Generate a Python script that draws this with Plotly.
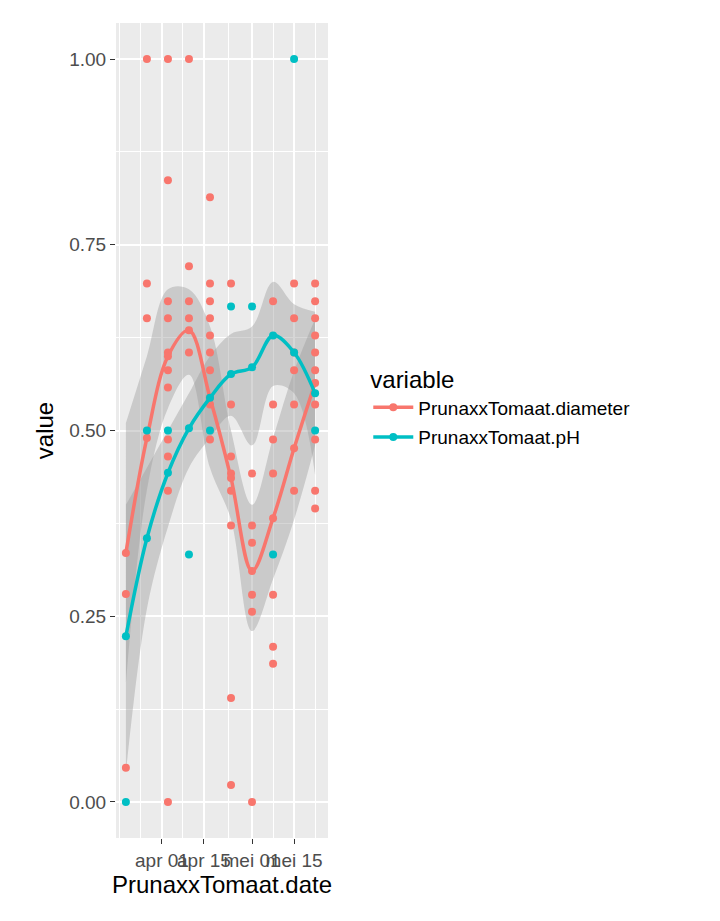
import plotly.graph_objects as go

dates = ["2021-03-20", "2021-03-27", "2021-04-03", "2021-04-10", "2021-04-17",
         "2021-04-24", "2021-05-01", "2021-05-08", "2021-05-15", "2021-05-22"]

diameter = [
    [0.046, 0.28],
    [1.0, 0.698, 0.651],
    [1.0, 0.837, 0.674, 0.651, 0.605, 0.581, 0.558, 0.488, 0.465, 0.419, 0.0],
    [1.0, 0.721, 0.674, 0.651, 0.605],
    [0.814, 0.698, 0.674, 0.651, 0.628, 0.605, 0.581, 0.535, 0.488],
    [0.698, 0.535, 0.465, 0.442, 0.419, 0.372, 0.14, 0.023],
    [0.442, 0.372, 0.349, 0.279, 0.256, 0.0],
    [0.674, 0.535, 0.488, 0.442, 0.279, 0.209, 0.186],
    [0.698, 0.651, 0.605, 0.581, 0.535, 0.419],
    [0.698, 0.674, 0.651, 0.628, 0.605, 0.581, 0.535, 0.488, 0.419, 0.395],
]
ph = [
    [0.0], [0.5], [0.5], [0.333], [0.5], [0.667], [0.667], [0.333], [1.0], [0.5],
]

# smoothed fits
diam_fit = [0.335, 0.49, 0.60, 0.635, 0.544, 0.436, 0.311, 0.382, 0.476, 0.564]
diam_lo = [0.16, 0.42, 0.53, 0.575, 0.45, 0.38, 0.23, 0.30, 0.38, 0.48]
diam_hi = [0.51, 0.60, 0.69, 0.69, 0.64, 0.50, 0.40, 0.49, 0.58, 0.65]
ph_fit = [0.223, 0.355, 0.443, 0.503, 0.544, 0.576, 0.585, 0.628, 0.605, 0.55]
ph_lo = [0.04, 0.26, 0.37, 0.45, 0.49, 0.52, 0.48, 0.56, 0.55, 0.44]
ph_hi = [0.40, 0.45, 0.50, 0.55, 0.60, 0.63, 0.64, 0.70, 0.67, 0.66]

RED = "#F8766D"
TEAL = "#00BFC4"
BAND = "rgba(153,153,153,0.4)"

fig = go.Figure()

for lo, hi in [(diam_lo, diam_hi), (ph_lo, ph_hi)]:
    fig.add_trace(go.Scatter(x=dates, y=lo, mode="lines", line=dict(width=0, shape="spline"),
                             showlegend=False, hoverinfo="skip"))
    fig.add_trace(go.Scatter(x=dates, y=hi, mode="lines", line=dict(width=0, shape="spline"),
                             fill="tonexty", fillcolor=BAND, showlegend=False, hoverinfo="skip"))

for name, vals, fit, col in [("PrunaxxTomaat.diameter", diameter, diam_fit, RED),
                             ("PrunaxxTomaat.pH", ph, ph_fit, TEAL)]:
    xs, ys = [], []
    for d, v in zip(dates, vals):
        xs += [d] * len(v)
        ys += v
    fig.add_trace(go.Scatter(x=xs, y=ys, mode="markers", marker=dict(color=col, size=8),
                             showlegend=False))
    fig.add_trace(go.Scatter(x=dates, y=fit, mode="lines+markers", name=name,
                             line=dict(color=col, width=3.5, shape="spline"),
                             marker=dict(size=8, color=col), legendgroup=name))

tick_font = dict(family="Liberation Sans, Arial", size=19, color="#4d4d4d")
fig.update_layout(
    width=720, height=921,
    margin=dict(l=108, r=400, t=15, b=91),
    paper_bgcolor="white", plot_bgcolor="#ebebeb",
    font=dict(family="Liberation Sans, Arial", color="black"),
    xaxis=dict(
        range=["2021-03-16 17:00", "2021-05-26 07:00"],
        tickmode="array",
        tickvals=["2021-04-01", "2021-04-15", "2021-05-01", "2021-05-15"],
        ticktext=["apr 01", "apr 15", "mei 01", "mei 15"],
        tickangle=0, automargin=False,
        tickfont=tick_font, ticks="outside", ticklen=5, tickcolor="#333333",
        gridcolor="white", gridwidth=2, zeroline=False, showline=False,
        minor=dict(tickmode="array",
                   tickvals=["2021-03-18", "2021-03-25", "2021-04-08", "2021-04-23",
                             "2021-05-08", "2021-05-22"],
                   showgrid=True, gridcolor="white", gridwidth=1, ticks=""),
        title=dict(text="PrunaxxTomaat.date", font=dict(size=24), standoff=6),
    ),
    yaxis=dict(
        range=[-0.0485, 1.0485],
        tickvals=[0, 0.25, 0.5, 0.75, 1.0],
        ticktext=["0.00", "0.25", "0.50", "0.75", "1.00"],
        automargin=False,
        tickfont=tick_font, ticks="outside", ticklen=5, tickcolor="#333333",
        gridcolor="white", gridwidth=2, zeroline=False, showline=False,
        minor=dict(dtick=0.25, tick0=0.125, showgrid=True, gridcolor="white", gridwidth=1, ticks=""),
        title=dict(text="value", font=dict(size=24), standoff=8),
    ),
    legend=dict(
        title=dict(text="variable", font=dict(size=24)),
        font=dict(size=19), x=1.19, xanchor="left", y=0.59, yanchor="top",
        bgcolor="white", itemwidth=40, tracegroupgap=2,
    ),
)

fig.write_html("out.html")
